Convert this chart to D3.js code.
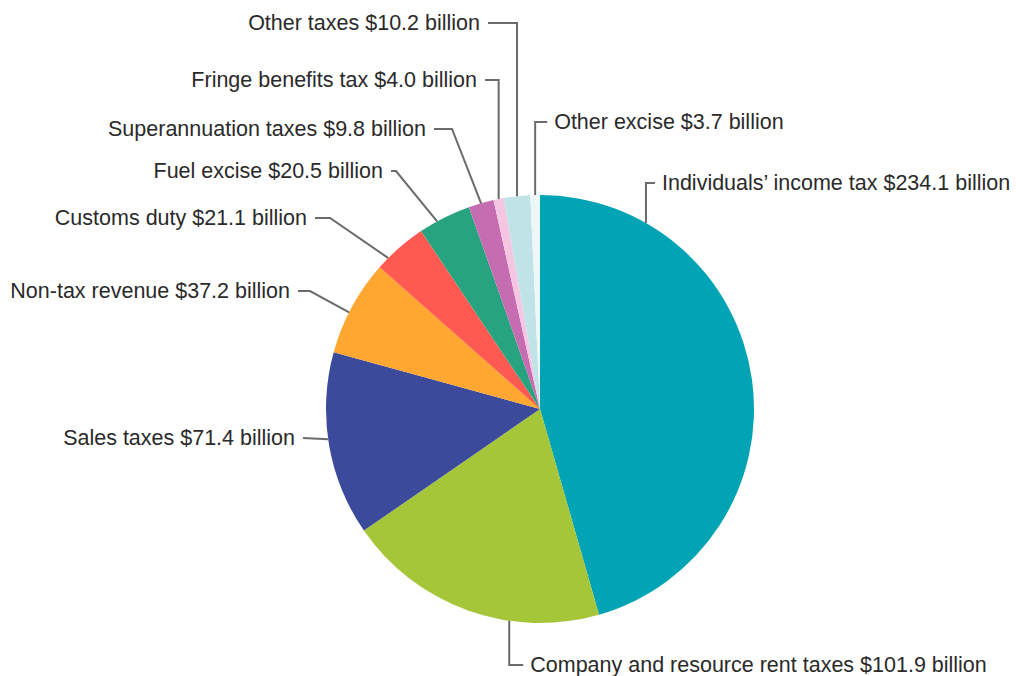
<!DOCTYPE html>
<html>
<head>
<meta charset="utf-8">
<script src="https://cdn.jsdelivr.net/npm/d3@7"></script>
<style>
  html, body { margin: 0; padding: 0; background: #fff; }
  svg { display: block; }
  .label { font-family: "Liberation Sans", Arial, Helvetica, sans-serif; font-size: 21.5px; fill: #2a2a2a; }
  .leader { fill: none; stroke: #6b6b6b; stroke-width: 2; }
</style>
</head>
<body>
<svg id="chart" width="1016" height="676"></svg>
<script>
// Revenue sources, $ billion, in clockwise order from 12 o'clock
const categories = [
  "Individuals\u2019 income tax",
  "Company and resource rent taxes",
  "Sales taxes",
  "Non-tax revenue",
  "Customs duty",
  "Fuel excise",
  "Superannuation taxes",
  "Fringe benefits tax",
  "Other taxes",
  "Other excise"
];
const values = [234.1, 101.9, 71.4, 37.2, 21.1, 20.5, 9.8, 4.0, 10.2, 3.7];
const colors = ["#00a4b4", "#a6c63a", "#3c4a9c", "#ffa731", "#ff5a52",
                "#27a37f", "#c66cb0", "#f4c6e1", "#bfe3e6", "#eef7f7"];

// Label placement: where the label text sits, and where along its slice
// (0 = start angle, 1 = end angle) the leader line meets the pie rim.
// type "v": leader rises vertically from the rim, then turns toward the text.
// type "d": leader runs diagonally from the rim to an elbow, then horizontally.
const labelLayout = [
  { type: "v", side: "right", y: 183, along: 0.181, hook: 9 },
  { type: "v", side: "right", y: 665, along: 0.34, hook: 14 },
  { type: "d", side: "left", textX: 295, y: 438, elbowX: 303, along: 0.53 },
  { type: "d", side: "left", textX: 290, y: 291, elbowX: 310, along: 0.44 },
  { type: "d", side: "left", textX: 307, y: 218, elbowX: 330, along: 0.23 },
  { type: "d", side: "left", textX: 383, y: 171, elbowX: 396, along: 0.35 },
  { type: "d", side: "left", textX: 426, y: 129, elbowX: 452, along: 0.5 },
  { type: "v", side: "left", textX: 477, y: 80, along: 0.5 },
  { type: "v", side: "left", textX: 480, y: 23, along: 0.5 },
  { type: "v", side: "right", y: 122, along: 0.5, hook: 12 }
];

const fmt = v => "$" + d3.format(".1f")(v) + " billion";

const svg = d3.select("#chart");
const cx = 540, cy = 409, radius = 214;
const gap = 8;

const pie = d3.pie().sort(null).value(d => d.value);
const arc = d3.arc().innerRadius(0).outerRadius(radius);

const data = categories.map((c, i) => ({ name: c, value: values[i], color: colors[i], layout: labelLayout[i] }));
const arcs = pie(data);

const g = svg.append("g").attr("transform", `translate(${cx},${cy})`);

g.selectAll("path.slice")
  .data(arcs)
  .join("path")
  .attr("class", "slice")
  .attr("d", arc)
  .attr("fill", d => d.data.color);

// point on the rim at a given angle (radians, clockwise from 12 o'clock)
const rim = a => [cx + radius * Math.sin(a), cy - radius * Math.cos(a)];

const labels = svg.append("g");

arcs.forEach(d => {
  const L = d.data.layout;
  const a = d.startAngle + (d.endAngle - d.startAngle) * L.along;
  const [px, py] = rim(a);
  const text = d.data.name + " " + fmt(d.data.value);
  let pts, tx, anchor;

  if (L.type === "v") {
    if (L.side === "right") {
      pts = [[px, py], [px, L.y], [px + L.hook, L.y]];
      tx = px + L.hook + 7; anchor = "start";
    } else {
      pts = [[px, py], [px, L.y], [L.textX + gap, L.y]];
      tx = L.textX; anchor = "end";
    }
  } else {
    pts = [[px, py], [L.elbowX, L.y], [L.textX + gap, L.y]];
    if (L.elbowX <= L.textX + gap) pts = [[px, py], [L.textX + gap, L.y]];
    tx = L.textX; anchor = "end";
  }

  labels.append("path")
    .attr("class", "leader")
    .attr("d", d3.line()(pts));

  labels.append("text")
    .attr("class", "label")
    .attr("x", tx)
    .attr("y", L.y - 1)
    .attr("dy", "0.35em")
    .attr("text-anchor", anchor)
    .text(text);
});
</script>
</body>
</html>
